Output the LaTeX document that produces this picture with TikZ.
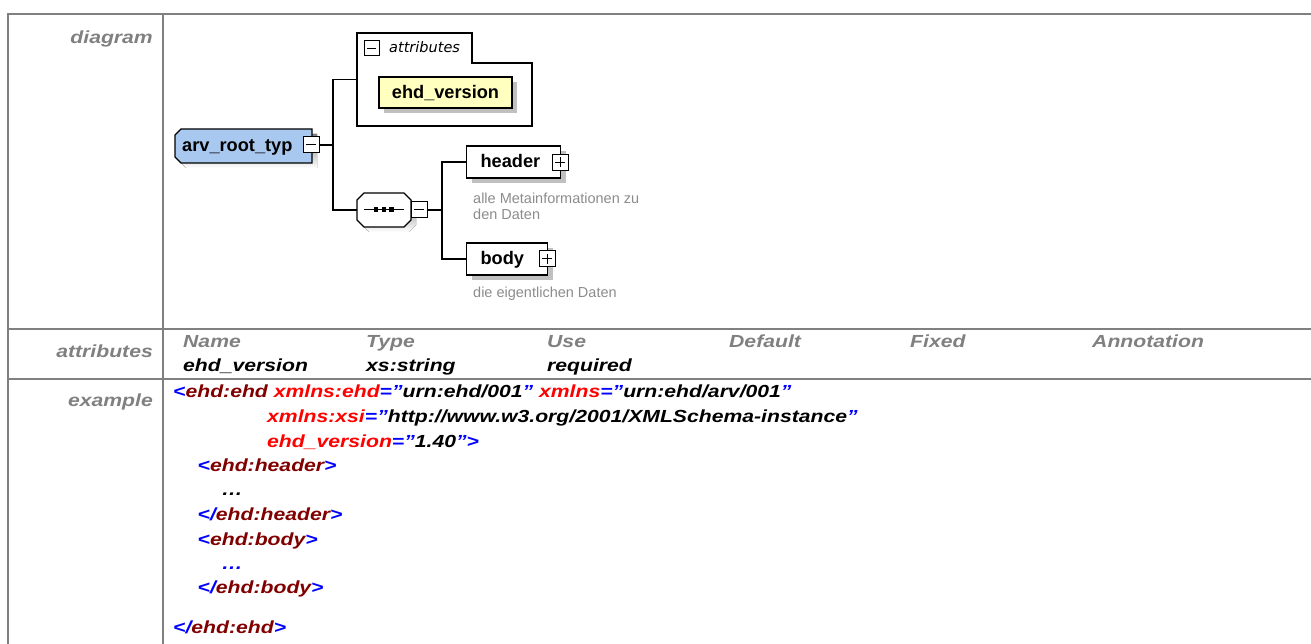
\documentclass[tikz,border=0pt]{standalone}
\usepackage{fontspec}
\setmainfont{Liberation Sans}
\newfontfamily\tabfont[FakeStretch=1.21]{Liberation Sans}
\newfontfamily\capfont{DejaVu Sans}
\usetikzlibrary{shadows}

\definecolor{tblgray}{RGB}{128,128,128}
\definecolor{cttype}{RGB}{168,200,240}
\definecolor{attrfill}{RGB}{255,255,192}
\definecolor{shade}{RGB}{192,192,192}
\definecolor{desc}{RGB}{140,140,140}
\definecolor{xblue}{RGB}{0,0,255}
\definecolor{xtag}{RGB}{128,0,0}
\definecolor{xattr}{RGB}{255,0,0}

% colour helpers for the XML listing
\newcommand\xb[1]{\textcolor{xblue}{#1}}
\newcommand\xt[1]{\textcolor{xtag}{#1}}
\newcommand\xa[1]{\textcolor{xattr}{#1}}

\tikzset{
  grid/.style={draw=tblgray, line width=2pt},
  tabtext/.style={anchor=base west, inner sep=0pt,
    font=\tabfont\bfseries\itshape\fontsize{17.5}{19}\selectfont},
  rowlabel/.style={tabtext, anchor=base east, text=tblgray},
  colhead/.style={tabtext, text=tblgray},
  codeline/.style={tabtext},
  outline/.style={draw=black, line width=1.2pt},
  conn/.style={draw=black, line width=1.2pt},
  boxshadow/.style={drop shadow={shadow xshift=5pt, shadow yshift=-5pt,
    fill=shade, opacity=1}},
  elembox/.style={outline, fill=white, boxshadow, anchor=west,
    minimum height=32pt, inner xsep=14pt, inner ysep=0pt, align=left,
    text height=13pt, text depth=1pt,
    font=\bfseries\fontsize{18.2}{20}\selectfont},
  btn/.style={outline, line width=1pt, fill=white, minimum size=16pt,
    inner sep=0pt},
  minusbtn/.style={btn, path picture={
    \draw[line width=1pt] ([xshift=3pt]path picture bounding box.west)
      -- ([xshift=-3pt]path picture bounding box.east);}},
  plusbtn/.style={btn, path picture={
    \draw[line width=1pt] ([xshift=3pt]path picture bounding box.west)
      -- ([xshift=-3pt]path picture bounding box.east);
    \draw[line width=1pt] ([yshift=-3pt]path picture bounding box.north)
      -- ([yshift=3pt]path picture bounding box.south);}},
  descnote/.style={anchor=base west, inner sep=0pt, text=desc, align=left,
    font=\fontsize{14.5}{16.5}\selectfont},
  hook/.style={inner sep=0pt, draw=none}
}

\begin{document}
\begin{tikzpicture}[x=1pt, y=-1pt]
\useasboundingbox (0,0) rectangle (1311,644);

% ---------- table frame ----------
\draw[grid] (8,644) -- (8,14) -- (1311,14);
\draw[grid] (163,14) -- (163,644);
\draw[grid] (8,328.5) -- (1311,328.5);
\draw[grid] (8,378.5) -- (1311,378.5);

\node[rowlabel] (lbldiagram) at (153,44) {diagram};
\node[rowlabel] (lblattributes) at (153,357) {attributes};
\node[rowlabel] (lblexample) at (153,406) {example};

% ---------- attributes row ----------
\node[colhead] (hname)  at (183,347)  {Name};
\node[colhead] (htype)  at (366,347)  {Type};
\node[colhead] (huse)   at (547,347)  {Use};
\node[colhead] (hdef)   at (729,347)  {Default};
\node[colhead] (hfix)   at (910,347)  {Fixed};
\node[colhead] (hann)   at (1092,347) {Annotation};
\node[tabtext] (vname)  at (183,371) {ehd\_version};
\node[tabtext] (vtype)  at (366,371) {xs:string};
\node[tabtext] (vuse)   at (547,371) {required};

% ---------- example row ----------
\node[codeline] (code1) at (173,397.5)
  {\xb{<}\xt{ehd:ehd} \xa{xmlns:ehd}\xb{=”}urn:ehd/001\xb{”} \xa{xmlns}\xb{=”}urn:ehd/arv/001\xb{”}};
\node[codeline] (code2) at (267,422)
  {\xa{xmlns:xsi}\xb{=”}http://www.w3.org/2001/XMLSchema-instance\xb{”}};
\node[codeline] (code3) at (267,447)
  {\xa{ehd\_version}\xb{=”}1.40\xb{”>}};
\node[codeline] (code4) at (197.5,471) {\xb{<}\xt{ehd:header}\xb{>}};
\node[codeline] (code5) at (221.5,495) {…};
\node[codeline] (code6) at (197.5,520) {\xb{</}\xt{ehd:header}\xb{>}};
\node[codeline] (code7) at (197.5,545) {\xb{<}\xt{ehd:body}\xb{>}};
\node[codeline] (code8) at (221.5,569) {\xb{…}};
\node[codeline] (code9) at (197.5,593) {\xb{</}\xt{ehd:body}\xb{>}};
\node[codeline] (code10) at (173,633) {\xb{</}\xt{ehd:ehd}\xb{>}};

% ---------- schema diagram ----------
% complex type arv_root_typ
\fill[shade] (186,134) -- (317,134) -- (317,168) -- (186,168)
  -- (180,162) -- (180,140) -- cycle;
\filldraw[outline, fill=cttype] (181,129) -- (312,129) -- (312,163)
  -- (181,163) -- (175,157) -- (175,135) -- cycle;
\node[anchor=base west, inner sep=0pt,
  font=\bfseries\fontsize{18.2}{20}\selectfont] (root) at (182,151.7)
  {arv\_root\_typ};
\node[minusbtn] (rootminus) at (311,145) {};

% attribute group
\draw[outline] (357,33) -- (472,33) -- (472,63) -- (532,63)
  -- (532,126) -- (357,126) -- cycle;
\node[hook, minimum width=175pt, minimum height=93pt] (attrgroup)
  at (444.5,79.5) {};
\node[minusbtn, minimum size=15pt] (attrminus) at (371.5,48.5) {};
\node[anchor=base west, inner sep=0pt,
  font=\capfont\itshape\fontsize{14.5}{17}\selectfont] (attrcaption)
  at (389,53) {attributes};
\node[outline, fill=attrfill, boxshadow, minimum width=133pt,
  minimum height=31pt, inner sep=0pt, text height=13pt, text depth=1pt,
  font=\bfseries\fontsize{18.2}{20}\selectfont] (ehdversion)
  at (445.5,92.5) {ehd\_version};

% sequence compositor
\fill[shade] (369,198) -- (409,198) -- (416,205) -- (416,225)
  -- (409,232) -- (369,232) -- (362,225) -- (362,205) -- cycle;
\filldraw[outline, fill=white] (364,193) -- (404,193) -- (411,200)
  -- (411,220) -- (404,227) -- (364,227) -- (357,220) -- (357,200) -- cycle;
\node[hook, minimum width=54pt, minimum height=34pt] (seq) at (384,210) {};
\draw[line width=1.2pt] (364,209.5) -- (403.5,209.5);
\foreach \cx in {376,383.7,391.3}
  \fill (\cx-2.2,207.3) rectangle (\cx+2.2,211.7);
\node[minusbtn] (seqminus) at (419,210) {};

% child elements
\node[elembox, minimum width=94pt, text width=66pt] (header) at (466,162)
  {header};
\node[plusbtn] (headerplus) at (560,162.5) {};
\node[descnote] (headerdesc) at (473,220)
  {alle Metainformationen zu\\den Daten};

\node[elembox, minimum width=81pt, text width=53pt] (body) at (466,259)
  {body};
\node[plusbtn] (bodyplus) at (547,259) {};
\node[descnote] (bodydesc) at (473,298) {die eigentlichen Daten};

% connectors
\coordinate (fork1) at (333,145);
\coordinate (fork2) at (442,210);
\draw[conn] (rootminus.east) -- (fork1);
\draw[conn] (attrgroup.west) -| (fork1) |- (seq.west);
\draw[conn] (seqminus.east) -- (fork2);
\draw[conn] (header.west) -| (fork2) |- (body.west);
\end{tikzpicture}
\end{document}
